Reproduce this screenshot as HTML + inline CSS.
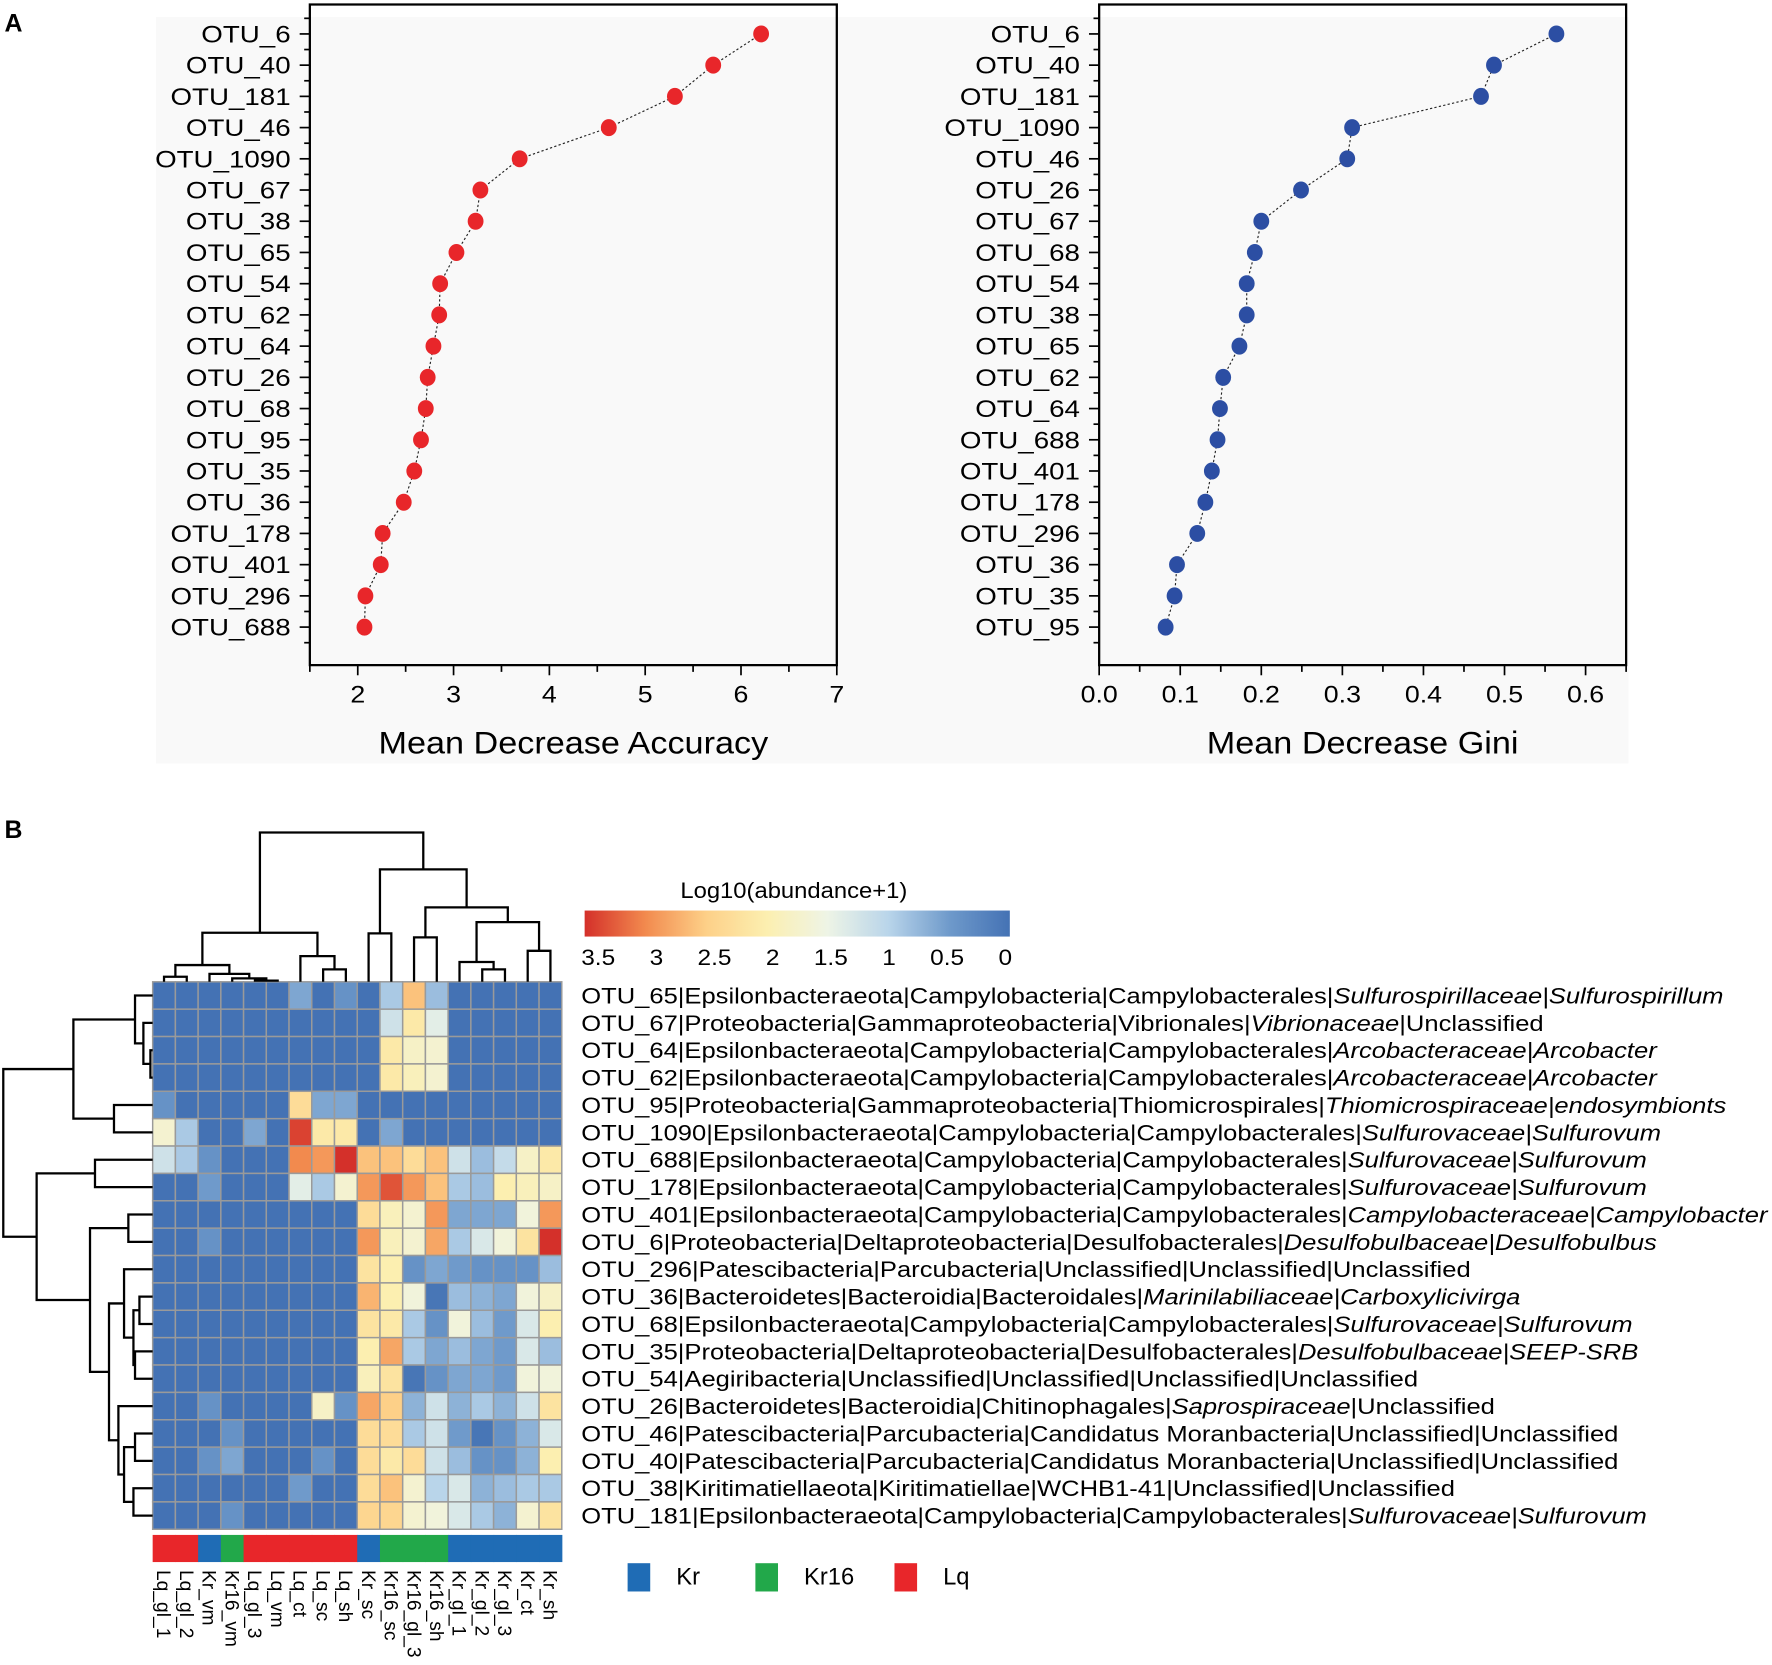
<!DOCTYPE html>
<html><head><meta charset="utf-8">
<style>
html,body{margin:0;padding:0;background:#fff;}
svg{display:block;font-family:"Liberation Sans",Arial,sans-serif;}
</style></head>
<body>
<svg id="fig" width="1772" height="1665" viewBox="0 0 1567 1472" preserveAspectRatio="none" xmlns="http://www.w3.org/2000/svg">
<rect x="0" y="0" width="1567" height="1472" fill="#ffffff"/>
<rect x="138" y="15" width="1302" height="660" fill="#f9f9f9"/>
<text x="4" y="28" font-size="22" font-weight="bold">A</text>
<text x="4" y="741" font-size="22" font-weight="bold">B</text>
<g id="chartA"></g>
<g id="chartG"></g>
<g id="heat"></g>
</svg>
<script>
// ---- Panel A data ----
const accCats = ["OTU_6","OTU_40","OTU_181","OTU_46","OTU_1090","OTU_67","OTU_38","OTU_65","OTU_54","OTU_62","OTU_64","OTU_26","OTU_68","OTU_95","OTU_35","OTU_36","OTU_178","OTU_401","OTU_296","OTU_688"];
const accVals = [6.21,5.71,5.31,4.62,3.69,3.28,3.23,3.03,2.86,2.85,2.79,2.73,2.71,2.66,2.59,2.48,2.26,2.24,2.08,2.07];
const accTicks = [2,3,4,5,6,7];
const giniCats = ["OTU_6","OTU_40","OTU_181","OTU_1090","OTU_46","OTU_26","OTU_67","OTU_68","OTU_54","OTU_38","OTU_65","OTU_62","OTU_64","OTU_688","OTU_401","OTU_178","OTU_296","OTU_36","OTU_35","OTU_95"];
const giniVals = [0.564,0.487,0.471,0.312,0.306,0.249,0.200,0.192,0.182,0.182,0.173,0.153,0.149,0.146,0.139,0.131,0.121,0.096,0.093,0.082];
const giniTicks = [0.0,0.1,0.2,0.3,0.4,0.5,0.6];
const giniTickLabels = ["0.0","0.1","0.2","0.3","0.4","0.5","0.6"];

// ---- Panel B data ----
const sampleNames = ["Lq_gl_1","Lq_gl_2","Kr_vm","Kr16_vm","Lq_gl_3","Lq_vm","Lq_ct","Lq_sc","Lq_sh","Kr_sc","Kr16_sc","Kr16_gl_3","Kr16_sh","Kr_gl_1","Kr_gl_2","Kr_gl_3","Kr_ct","Kr_sh"];
const sampleGroups = ["Lq","Lq","Kr","Kr16","Lq","Lq","Lq","Lq","Lq","Kr","Kr16","Kr16","Kr16","Kr","Kr","Kr","Kr","Kr"];
const rowLabels = [
 ["OTU_65|Epsilonbacteraeota|Campylobacteria|Campylobacterales|","Sulfurospirillaceae|Sulfurospirillum",""],
 ["OTU_67|Proteobacteria|Gammaproteobacteria|Vibrionales|","Vibrionaceae","|Unclassified"],
 ["OTU_64|Epsilonbacteraeota|Campylobacteria|Campylobacterales|","Arcobacteraceae|Arcobacter",""],
 ["OTU_62|Epsilonbacteraeota|Campylobacteria|Campylobacterales|","Arcobacteraceae|Arcobacter",""],
 ["OTU_95|Proteobacteria|Gammaproteobacteria|Thiomicrospirales|","Thiomicrospiraceae|endosymbionts",""],
 ["OTU_1090|Epsilonbacteraeota|Campylobacteria|Campylobacterales|","Sulfurovaceae|Sulfurovum",""],
 ["OTU_688|Epsilonbacteraeota|Campylobacteria|Campylobacterales|","Sulfurovaceae|Sulfurovum",""],
 ["OTU_178|Epsilonbacteraeota|Campylobacteria|Campylobacterales|","Sulfurovaceae|Sulfurovum",""],
 ["OTU_401|Epsilonbacteraeota|Campylobacteria|Campylobacterales|","Campylobacteraceae|Campylobacter",""],
 ["OTU_6|Proteobacteria|Deltaproteobacteria|Desulfobacterales|","Desulfobulbaceae|Desulfobulbus",""],
 ["OTU_296|Patescibacteria|Parcubacteria|Unclassified|Unclassified|Unclassified","",""],
 ["OTU_36|Bacteroidetes|Bacteroidia|Bacteroidales|","Marinilabiliaceae|Carboxylicivirga",""],
 ["OTU_68|Epsilonbacteraeota|Campylobacteria|Campylobacterales|","Sulfurovaceae|Sulfurovum",""],
 ["OTU_35|Proteobacteria|Deltaproteobacteria|Desulfobacterales|","Desulfobulbaceae|SEEP-SRB",""],
 ["OTU_54|Aegiribacteria|Unclassified|Unclassified|Unclassified|Unclassified","",""],
 ["OTU_26|Bacteroidetes|Bacteroidia|Chitinophagales|","Saprospiraceae","|Unclassified"],
 ["OTU_46|Patescibacteria|Parcubacteria|Candidatus Moranbacteria|Unclassified|Unclassified","",""],
 ["OTU_40|Patescibacteria|Parcubacteria|Candidatus Moranbacteria|Unclassified|Unclassified","",""],
 ["OTU_38|Kiritimatiellaeota|Kiritimatiellae|WCHB1-41|Unclassified|Unclassified","",""],
 ["OTU_181|Epsilonbacteraeota|Campylobacteria|Campylobacterales|","Sulfurovaceae|Sulfurovum",""]
];
const heatValues = [
 [0,0,0,0,0,0,0.6,0,0.4,0,0.9,2.6,0.8,0,0,0,0,0],
 [0,0,0,0,0,0,0,0,0,0,1.2,2.1,1.4,0,0,0,0,0],
 [0,0,0,0,0,0,0,0,0,0,2.1,1.8,1.7,0,0,0,0,0],
 [0,0,0,0,0,0,0,0,0,0,2.1,1.9,1.7,0,0,0,0,0],
 [0.4,0,0,0,0,0,2.3,0.6,0.6,0,0,0,0,0,0,0,0,0],
 [1.7,0.9,0,0,0.6,0,3.4,2.1,2.1,0,0.6,0,0,0,0,0,0,0],
 [1.2,0.9,0.4,0,0,0,3.0,2.9,3.5,2.6,2.6,2.3,2.6,1.2,0.8,1.1,1.8,2.1],
 [0,0,0.5,0,0,0,1.4,0.9,1.7,2.9,3.3,2.9,2.6,0.9,0.8,2.0,1.9,1.8],
 [0,0,0,0,0,0,0,0,0,2.3,1.9,1.7,2.9,0.6,0.6,0.6,1.6,2.9],
 [0,0,0.4,0,0,0,0,0,0,2.9,1.9,1.7,2.8,0.9,1.3,1.6,2.2,3.5],
 [0,0,0,0,0,0,0,0,0,2.2,2.0,0.4,0.6,0.5,0.4,0.4,0.4,0.8],
 [0,0,0,0,0,0,0,0,0,2.7,2.0,1.6,0.05,0.8,0.7,0.6,1.6,1.8],
 [0,0,0,0,0,0,0,0,0,2.2,2.1,0.9,0.4,1.6,0.8,0.5,1.3,2.0],
 [0,0,0,0,0,0,0,0,0,2.0,2.8,0.9,0.6,0.8,0.6,0.5,1.3,0.8],
 [0,0,0,0,0,0,0,0,0,1.9,2.2,0.05,0.4,0.6,0.6,0.5,1.6,1.6],
 [0,0,0.4,0,0,0,0,1.8,0.4,2.8,2.5,0.7,1.2,0.7,0.9,0.7,1.2,2.2],
 [0,0,0,0.4,0,0,0,0,0,2.3,2.3,0.9,1.2,0.5,0.05,0.4,0.7,1.3],
 [0,0,0.4,0.6,0,0,0,0.4,0,2.3,2.1,2.3,1.2,0.8,0.4,0.4,0.7,2.0],
 [0,0,0,0,0,0,0.5,0,0,2.3,2.6,1.7,1.0,1.3,0.7,0.8,0.9,0.9],
 [0,0,0,0.4,0,0,0,0,0,2.4,2.4,1.7,1.6,1.3,0.9,0.7,1.7,2.2]
];
const cbTicks = [3.5,3,2.5,2,1.5,1,0.5,0];
const cbTickLabels = ["3.5","3","2.5","2","1.5","1","0.5","0"];
const legendNames = ["Kr","Kr16","Lq"];

const NS = "http://www.w3.org/2000/svg";
function mk(parent, tag, attrs, text){
  const e = document.createElementNS(NS, tag);
  for (const k in attrs) e.setAttribute(k, attrs[k]);
  if (text !== undefined) e.textContent = text;
  parent.appendChild(e);
  return e;
}

function dotChart(g, cats, vals, ticks, tickLabels, x0, x1, dmin, dmax, color, title, minorStep){
  const top = 4, bottom = 588, yFirst = 30, step = 27.6;
  const sx = v => x0 + (v - dmin) / (dmax - dmin) * (x1 - x0);
  const sy = i => yFirst + i * step;
  let e = mk(g, "path", {d:`M${x0},${top} H${x1} V${bottom} H${x0} Z`, fill:"none", stroke:"#000", "stroke-width":2});
  
  
  for (let i = 0; i < cats.length; i++){
    e = mk(g, "line", {x1:x0-9, x2:x0, y1:sy(i), y2:sy(i), stroke:"#000", "stroke-width":1.5});
    
    
    e = mk(g, "text", {x:0, y:0, "font-size":21.5, "text-anchor":"end", transform:`translate(${x0-17},${sy(i)+7.5}) scale(1.14,1)`}, cats[i]);
    
    
  }
  for (let i = -1; i <= cats.length; i++){
    const y = sy(i) + step/2;
    if (y < top + 2 || y > bottom - 2) continue;
    e = mk(g, "line", {x1:x0-5, x2:x0, y1:y, y2:y, stroke:"#000", "stroke-width":1.5});
    
    
  }
  for (let t = dmin; t <= dmax + 1e-9; t += minorStep){
    const major = ticks.some(v => Math.abs(v - t) < 1e-6);
    e = mk(g, "line", {x1:sx(t), x2:sx(t), y1:bottom, y2:bottom + (major?9:6), stroke:"#000", "stroke-width":1.5});
    
    
  }
  ticks.forEach((t, i) => {
    const el = mk(g, "text", {x:0, y:0, "font-size":21.5, "text-anchor":"middle", transform:`translate(${sx(t)},621) scale(1.1,1)`}, tickLabels[i]);
    
    
  });
  e = mk(g, "text", {x:0, y:0, "font-size":27.5, "text-anchor":"middle", transform:`translate(${(x0+x1)/2},666) scale(1.1,1)`}, title);
  
  
  const pts = vals.map((v,i) => `${sx(v)},${sy(i)}`).join(" ");
  e = mk(g, "polyline", {points:pts, fill:"none", stroke:"#222", "stroke-width":1, "stroke-dasharray":"2,2"});
  
  
  vals.forEach((v,i) => {
    const el = mk(g, "ellipse", {cx:sx(v), cy:sy(i), rx:7, ry:7.5, fill:color});
    
    
  });
}

dotChart(document.getElementById("chartA"), accCats, accVals, accTicks, accTicks.map(String), 274, 740, 1.5, 7, "#e8262a", "Mean Decrease Accuracy", 0.5);
dotChart(document.getElementById("chartG"), giniCats, giniVals, giniTicks, giniTickLabels, 972, 1438, 0, 0.65, "#2c4ea3", "Mean Decrease Gini", 0.05);

// ---- Heatmap ----
const heat = document.getElementById("heat");
const hx0 = 135, hy0 = 868, cw = 20.1, ch = 24.2;
const nCols = sampleNames.length, nRows = heatValues.length;
const stops = [[0,[68,114,180]],[0.5,[111,154,203]],[1.0,[185,213,234]],[1.5,[238,244,230]],[2.0,[252,239,176]],[2.5,[253,208,136]],[3.0,[242,138,78]],[3.5,[212,48,42]]];
function cmap(v){
  v = Math.max(0, Math.min(3.5, v));
  for (let i = 0; i < stops.length-1; i++){
    const [a, ca] = stops[i], [b, cb] = stops[i+1];
    if (v <= b){
      const t = (v - a) / (b - a);
      const c = ca.map((x,k) => Math.round(x + (cb[k]-x)*t));
      return `rgb(${c[0]},${c[1]},${c[2]})`;
    }
  }
  return "rgb(212,48,42)";
}
const colX = j => hx0 + cw*(j+0.5);
const rowY = i => hy0 + ch*(i+0.5);
for (let i = 0; i < nRows; i++){
  for (let j = 0; j < nCols; j++){
    const r = mk(heat, "rect", {x:hx0+cw*j, y:hy0+ch*i, width:cw, height:ch, fill:cmap(heatValues[i][j]), stroke:"#9a9a9a", "stroke-width":1.3});
    
    
  }
  const t = mk(heat, "text", {x:0, y:0, "font-size":20, transform:`translate(514,${rowY(i)+7}) scale(1.13,1)`});
  
  
  const [a,b,c] = rowLabels[i];
  mk(t, "tspan", {}, a);
  if (b) mk(t, "tspan", {"font-style":"italic"}, b);
  if (c) mk(t, "tspan", {}, c);
}
const groupColor = {Kr:"#1f6cb5", Kr16:"#22a84a", Lq:"#e8262a"};
for (let j = 0; j < nCols; j++){
  const r = mk(heat, "rect", {x:hx0+cw*j, y:1357, width:cw+0.5, height:24, fill:groupColor[sampleGroups[j]]});
  
  
  const t = mk(heat, "text", {x:0, y:0, "font-size":17, transform:`translate(${colX(j)-6},1388) rotate(90)`}, sampleNames[j]);
  
  
}
legendNames.forEach((n, k) => {
  const lx = [555, 668, 791][k];
  const r = mk(heat, "rect", {x:lx, y:1382, width:20, height:25, fill:groupColor[n]});
  
  
  const t = mk(heat, "text", {x:lx+43, y:1401, "font-size":21}, n);
  
  
});
const defs = mk(heat, "defs", {});
const grad = mk(defs, "linearGradient", {id:"cbg", x1:"0", x2:"1", y1:"0", y2:"0"});
for (let k = 0; k <= 35; k++){
  const v = 3.5 - k*0.1;
  mk(grad, "stop", {offset:(k/35).toFixed(3), "stop-color":cmap(v)});
}
let cb = mk(heat, "rect", {x:517, y:805, width:376, height:23, fill:"url(#cbg)"});


cb = mk(heat, "text", {x:0, y:0, "font-size":19.5, "text-anchor":"middle", transform:"translate(702,794) scale(1.08,1)"}, "Log10(abundance+1)");


cbTicks.forEach((v, k) => {
  const t = mk(heat, "text", {x:0, y:0, "font-size":20, "text-anchor":"middle", transform:`translate(${529 + (3.5 - v)/3.5*(889-529)},853) scale(1.08,1)`}, cbTickLabels[k]);
  
  
});

function leaf(i){ return {leaf:i}; }
function node(h, l, r){ return {h:h, l:l, r:r}; }
const colTree = node(736,
  node(824.6,
    node(853.2, node(863.5, leaf(0), leaf(1)), node(861, leaf(2), node(865, leaf(3), node(867, leaf(4), leaf(5))))),
    node(845.3, leaf(6), node(857, leaf(7), leaf(8)))),
  node(768.6,
    node(825.2, leaf(9), leaf(10)),
    node(802.2, node(828.7, leaf(11), leaf(12)),
      node(815.2, node(850.5, leaf(13), node(857, leaf(14), leaf(15))), node(840.6, leaf(16), leaf(17))))));
const rowTree = node(2.9,
  node(64.9,
    node(119.4, leaf(0), node(126.8, leaf(1), node(133, leaf(2), leaf(3)))),
    node(100.8, leaf(4), leaf(5))),
  node(32.4,
    node(84, leaf(6), leaf(7)),
    node(79.6,
      node(113.5, leaf(8), leaf(9)),
      node(96.4,
        node(109.7, leaf(10), node(118, node(123.3, leaf(11), leaf(12)), node(119.4, leaf(13), leaf(14)))),
        node(104.7, leaf(15), node(109.7, node(119.4, leaf(16), leaf(17)), node(118, leaf(18), leaf(19))))))));
function drawTree(t, horizontal, base, pos, dparts){
  if (t.leaf !== undefined) return {p:pos(t.leaf), h:base};
  const a = drawTree(t.l, horizontal, base, pos, dparts), b = drawTree(t.r, horizontal, base, pos, dparts);
  if (horizontal) dparts.push(`M${a.p},${a.h} V${t.h} H${b.p} V${b.h}`);
  else dparts.push(`M${a.h},${a.p} H${t.h} V${b.p} H${b.h}`);
  return {p:(a.p+b.p)/2, h:t.h};
}
let parts = [];
drawTree(colTree, true, hy0, colX, parts);
let dg = mk(heat, "path", {d:parts.join(" "), fill:"none", stroke:"#000", "stroke-width":2});


parts = [];
drawTree(rowTree, false, hx0, rowY, parts);
dg = mk(heat, "path", {d:parts.join(" "), fill:"none", stroke:"#000", "stroke-width":2});


</script>
</body></html>
